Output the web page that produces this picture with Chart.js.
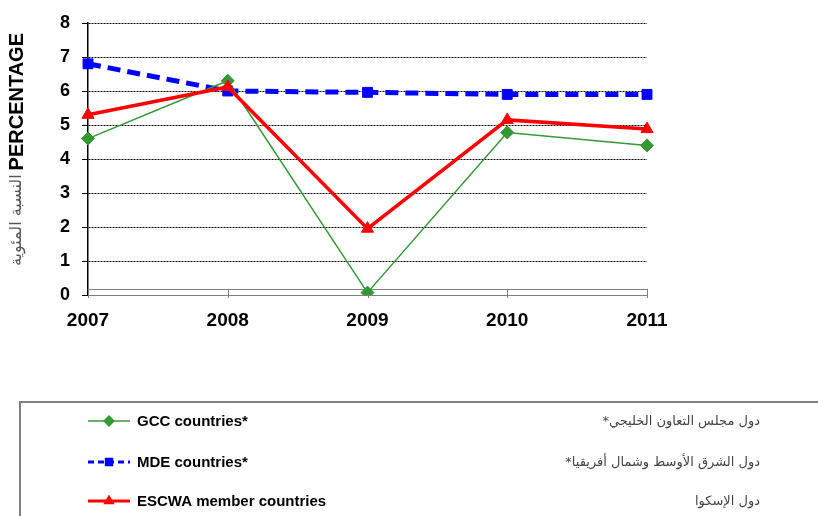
<!DOCTYPE html>
<html>
<head>
<meta charset="utf-8">
<script src="https://cdn.jsdelivr.net/npm/chart.js@4"></script>
<style>
  html, body { margin: 0; padding: 0; background: #fff; }
  #wrap { width: 818px; height: 516px; position: relative; }
</style>
</head>
<body>
<div id="wrap"><canvas id="c" width="818" height="516"></canvas></div>
<script>
const years = ["2007", "2008", "2009", "2010", "2011"];
const gcc = [4.6, 6.3, 0.07, 4.78, 4.4];
const mde = [6.8, 6.0, 5.96, 5.9, 5.9];
const escwa = [5.3, 6.12, 1.95, 5.15, 4.88];
const seriesNames = ["GCC countries*", "MDE countries*", "ESCWA member countries"];
const seriesNamesAr = ["دول مجلس التعاون الخليجي*", "دول الشرق الأوسط وشمال أفريقيا*", "دول الإسكوا"];
const yTitle = "PERCENTAGE", yTitleAr = "النسبة المئوية";

// floor strip along the bottom of the plot + y title + boxed legend
const extras = {
  id: "extras",
  beforeDatasetsDraw(chart) {
    const { ctx, scales: { x, y } } = chart;
    const top = y.getPixelForValue(0.18), bot = y.getPixelForValue(0);
    ctx.save();
    ctx.strokeStyle = "#808080"; ctx.lineWidth = 1;
    ctx.strokeRect(x.left + 0.5, Math.round(top) + 0.5, x.right - x.left, Math.round(bot - top));
    years.forEach((_, i) => {
      const px = Math.round(x.getPixelForValue(i)) + 0.5;
      ctx.beginPath(); ctx.moveTo(px, top); ctx.lineTo(px, bot + 3); ctx.stroke();
    });
    ctx.restore();
  },
  afterDraw(chart) {
    const ctx = chart.ctx;
    ctx.save();
    // y title
    ctx.translate(17, 0); ctx.rotate(-Math.PI / 2);
    ctx.textBaseline = "middle"; ctx.textAlign = "right";
    ctx.font = "bold 20px 'Liberation Sans', Arial, sans-serif";
    ctx.fillStyle = "#000";
    ctx.fillText(yTitle, -33, 0);
    const w = ctx.measureText(yTitle).width;
    ctx.font = "16px 'DejaVu Sans', sans-serif";
    ctx.fillStyle = "#555";
    ctx.direction = "rtl";
    ctx.fillText(yTitleAr, -33 - w - 4, 0);
    ctx.restore();

    // legend box
    ctx.save();
    ctx.strokeStyle = "#808080"; ctx.lineWidth = 2;
    ctx.strokeRect(20, 402, 820, 130);
    const rows = [421, 462, 501];
    chart.data.datasets.forEach((ds, i) => {
      const yy = rows[i];
      ctx.save();
      ctx.strokeStyle = ds.borderColor;
      ctx.lineWidth = Math.min(ds.borderWidth, 3);
      ctx.setLineDash(ds.borderDash ? [6, 4] : []);
      ctx.beginPath(); ctx.moveTo(88, yy); ctx.lineTo(130, yy); ctx.stroke();
      ctx.restore();
      ctx.fillStyle = ds.borderColor; ctx.strokeStyle = ds.borderColor;
      Chart.helpers.drawPoint(ctx, { pointStyle: ds.pointStyle, radius: 4.5, rotation: 0, borderWidth: 1 }, 109, yy);
      ctx.fillStyle = "#000";
      ctx.font = "bold 15px 'Liberation Sans', Arial, sans-serif";
      ctx.textBaseline = "middle"; ctx.textAlign = "left"; ctx.direction = "ltr";
      ctx.fillText(seriesNames[i], 137, yy + 1);
      ctx.font = "13px 'DejaVu Sans', sans-serif";
      ctx.fillStyle = "#444"; ctx.textAlign = "right"; ctx.direction = "rtl";
      ctx.fillText(seriesNamesAr[i], 760, yy + 1);
    });
    ctx.restore();
  }
};

new Chart(document.getElementById("c").getContext("2d"), {
  type: "line",
  data: {
    labels: years,
    datasets: [
      { label: seriesNames[0], data: gcc, borderColor: "#339933", backgroundColor: "#339933",
        borderWidth: 1.5, pointStyle: "rectRot", pointRadius: 6.5, pointBorderWidth: 1,
        pointBorderColor: "#339933", order: 2 },
      { label: seriesNames[1], data: mde, borderColor: "#0000ff", backgroundColor: "#0000ff",
        borderWidth: 5, borderDash: [13, 7], pointStyle: "rect", pointRadius: 7, pointBorderWidth: 1,
        pointBorderColor: "#0000ff", order: 3 },
      { label: seriesNames[2], data: escwa, borderColor: "#ff0000", backgroundColor: "#ff0000",
        borderWidth: 3.5, pointStyle: "triangle", pointRadius: 7, pointBorderWidth: 1,
        pointBorderColor: "#ff0000", order: 1 }
    ]
  },
  options: {
    responsive: false, animation: false,
    layout: { padding: { left: 0, right: 171, top: 23, bottom: 181 } },
    plugins: { legend: { display: false }, tooltip: { enabled: false } },
    scales: {
      x: {
        grid: { display: false, drawTicks: false },
        border: { color: "#808080", width: 1 },
        ticks: { color: "#000", font: { family: "'Liberation Sans', Arial, sans-serif", size: 19, weight: "bold" }, padding: 14, maxRotation: 0 },
        afterFit(s) { s.height = 40; }
      },
      y: {
        min: 0, max: 8,
        grid: { color: "#000", lineWidth: 1, tickLength: 6, tickColor: "#000", tickBorderDash: [] },
        border: { color: "#000", width: 1.5, dash: [2, 1] },
        ticks: { stepSize: 1, color: "#000", font: { family: "'Liberation Sans', Arial, sans-serif", size: 18, weight: "bold" }, padding: 12 },
        afterFit(s) { s.width = 88; }
      }
    }
  },
  plugins: [extras]
});
</script>
</body>
</html>
